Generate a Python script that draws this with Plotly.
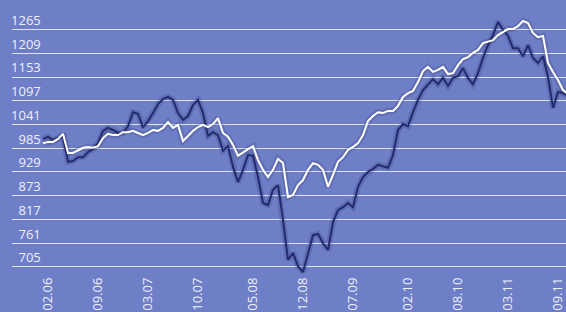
import plotly.graph_objects as go

# observation index (roughly every 3 weeks), Feb 2006 - Sep 2011
obs = list(range(106))

benchmark = [997, 1000, 1000, 1007, 1019, 974, 974, 981, 986, 988,
             986, 990, 1009, 1019, 1016, 1016, 1023, 1023, 1026, 1021,
             1016, 1021, 1028, 1026, 1033, 1047, 1033, 1040, 1002, 1014,
             1026, 1035, 1040, 1035, 1042, 1056, 1021, 1012, 993, 967,
             976, 983, 990, 957, 934, 917, 934, 960, 950, 870,
             875, 898, 910, 934, 950, 946, 934, 894, 922, 953,
             964, 981, 988, 997, 1016, 1049, 1061, 1070, 1068, 1073,
             1073, 1085, 1106, 1115, 1120, 1141, 1167, 1177, 1165, 1170,
             1177, 1160, 1162, 1181, 1195, 1200, 1210, 1217, 1233, 1236,
             1240, 1252, 1259, 1266, 1266, 1273, 1285, 1280, 1257, 1247,
             1250, 1186, 1165, 1146, 1122, 1113]

fund = [1007, 1012, 1004, 1009, 1012, 953, 955, 964, 964, 976,
        983, 997, 1026, 1033, 1028, 1021, 1021, 1037, 1070, 1066,
        1035, 1049, 1068, 1089, 1101, 1106, 1099, 1068, 1052, 1061,
        1087, 1099, 1068, 1014, 1023, 1016, 979, 990, 941, 905,
        934, 969, 967, 917, 856, 851, 887, 898, 816, 722,
        738, 707, 693, 738, 780, 783, 761, 745, 811, 839,
        846, 856, 846, 894, 917, 929, 936, 946, 943, 939,
        969, 1028, 1042, 1037, 1070, 1099, 1122, 1136, 1148, 1136,
        1151, 1132, 1151, 1155, 1174, 1151, 1136, 1162, 1198, 1228,
        1252, 1283, 1264, 1250, 1221, 1221, 1202, 1228, 1198, 1186,
        1202, 1153, 1080, 1118, 1115, 1108]

tick_obs = [1, 11, 21, 31, 42, 52, 62, 73, 83, 93, 103]
tick_text = ["02.06", "09.06", "03.07", "10.07", "05.08", "12.08",
             "07.09", "02.10", "08.10", "03.11", "09.11"]
y_ticks = [705, 761, 817, 873, 929, 985, 1041, 1097, 1153, 1209, 1265]

BG = "rgb(111,127,199)"
NAVY = "rgb(36,42,110)"
SHADOW = "rgba(40,45,110,0.22)"
LABEL = "rgb(238,240,252)"

fig = go.Figure()
fig.add_trace(go.Scatter(x=obs, y=fund, mode="lines",
                         line=dict(color=SHADOW, width=6), hoverinfo="skip"))
fig.add_trace(go.Scatter(x=obs, y=fund, mode="lines",
                         line=dict(color=NAVY, width=2)))
fig.add_trace(go.Scatter(x=obs, y=benchmark, mode="lines",
                         line=dict(color=SHADOW, width=6), hoverinfo="skip"))
fig.add_trace(go.Scatter(x=obs, y=benchmark, mode="lines",
                         line=dict(color="white", width=2)))

fig.update_layout(
    width=566, height=312,
    margin=dict(l=12, r=0, t=0, b=32, autoexpand=False),
    paper_bgcolor=BG, plot_bgcolor=BG,
    showlegend=False,
    font=dict(family="Open Sans", size=13, color=LABEL),
    xaxis=dict(range=[-6.2, 104.6], tickmode="array", tickvals=tick_obs,
               ticktext=tick_text, tickangle=-90, showgrid=False,
               zeroline=False, showline=False, ticks="",
               ticklabelstandoff=-6, ticklabeloverflow="allow",
               automargin=False,
               tickfont=dict(size=13, color=LABEL)),
    yaxis=dict(range=[674.3, 1334.6], tickmode="array", tickvals=y_ticks,
               showgrid=True, gridcolor="rgba(236,240,255,0.9)", gridwidth=1.4,
               zeroline=False, showline=False, ticks="",
               anchor="free", position=0.052, automargin=False,
               ticklabelposition="outside top",
               tickfont=dict(size=13, color=LABEL)),
)

fig.write_html("out.html", config={"displayModeBar": False},
               post_script="document.body.style.margin='0';"
                           "document.body.style.background='" + BG + "';")
